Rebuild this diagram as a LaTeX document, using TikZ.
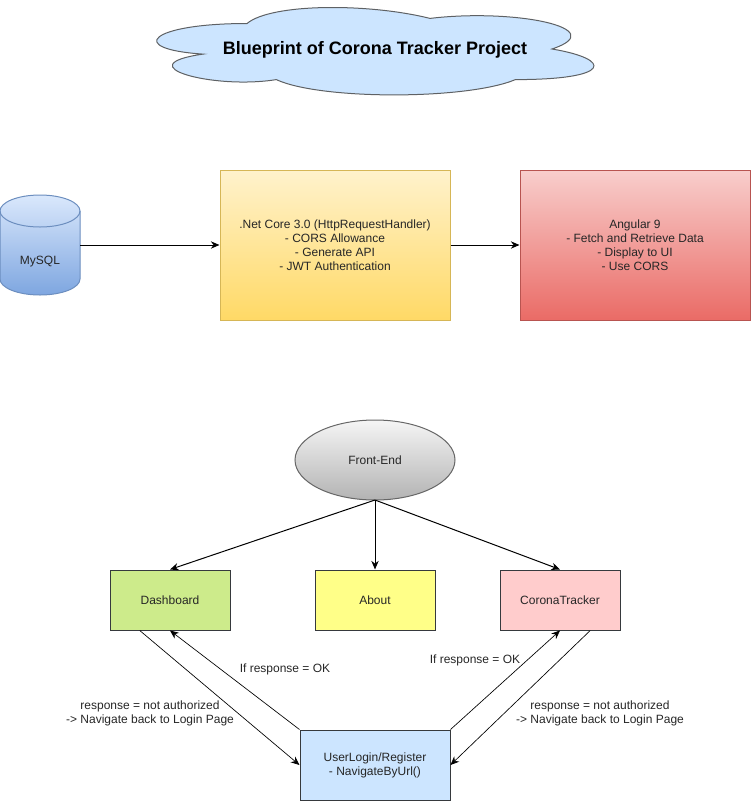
\documentclass[tikz,border=0pt]{standalone}
\usepackage{fontspec}
\setmainfont{Liberation Sans}
\usetikzlibrary{arrows.meta,calc}
\definecolor{cloudfill}{HTML}{CCE5FF}
\definecolor{darkline}{HTML}{36393D}
\definecolor{dbtop}{HTML}{DAE8FC}
\definecolor{dbbot}{HTML}{7EA6E0}
\definecolor{dbline}{HTML}{6C8EBF}
\definecolor{nettop}{HTML}{FFF2CC}
\definecolor{netbot}{HTML}{FFD966}
\definecolor{netline}{HTML}{D6B656}
\definecolor{angtop}{HTML}{F8CECC}
\definecolor{angbot}{HTML}{EA6B66}
\definecolor{angline}{HTML}{B85450}
\definecolor{feTop}{HTML}{F5F5F5}
\definecolor{feBot}{HTML}{B3B3B3}
\definecolor{feline}{HTML}{666666}
\definecolor{dashfill}{HTML}{CDEB8B}
\definecolor{aboutfill}{HTML}{FFFF88}
\definecolor{coronafill}{HTML}{FFCCCC}
\begin{document}
\begin{tikzpicture}[x=0.75pt,y=-0.75pt,
  txt/.style={font=\fontsize{9}{10.5}\selectfont, text=black!85, align=center},
  box/.style={txt, draw=darkline, line width=0.75pt, inner sep=0pt},
  conn/.style={-{Stealth[length=6.5pt,width=5.5pt]}, line width=0.75pt, black},
  thin/.style={-{Stealth[length=6.5pt,width=5.5pt]}, line width=0.5pt, black},
  lbl/.style={txt, inner sep=1pt}
]
\useasboundingbox (0,0) rectangle (751,801);
% cloud
\path[draw=darkline!80, line width=0.75pt, fill=cloudfill]
  (247,23.5) .. controls (149.4,23.5) and (125,49) .. (203.1,54.1)
  .. controls (125,65.3) and (212.8,89.8) .. (276.3,79.6)
  .. controls (320.2,100) and (466.6,100) .. (515.4,79.6)
  .. controls (613,79.6) and (613,59.2) .. (552,49)
  .. controls (613,28.6) and (515.4,8.2) .. (430,18.4)
  .. controls (369,3.1) and (271.4,3.1) .. (247,23.5) -- cycle;
\node[font=\bfseries\fontsize{13.5}{16}\selectfont] (title) at (375,50) {Blueprint of Corona Tracker Project};
% cylinder
\path[draw=dbline, line width=0.75pt, top color=dbtop, bottom color=dbbot]
  (0,211) -- (0,279) arc[start angle=180, end angle=0, x radius=40, y radius=16]
  -- (80,211) arc[start angle=0, end angle=-180, x radius=40, y radius=16] -- cycle;
\draw[dbline, line width=0.75pt] (0,211) arc[start angle=180, end angle=0, x radius=40, y radius=16];
\node[minimum width=60pt, minimum height=75pt, inner sep=0pt] (db) at (40,245) {};
\node[txt] (dblabel) at (40,262) {MySQL};
% top boxes
\node[txt, draw=netline, line width=0.75pt, top color=nettop, bottom color=netbot,
  minimum width=172.5pt, minimum height=112.5pt, inner sep=0pt] (net) at (335,245)
  {.Net Core 3.0 (HttpRequestHandler)\\- CORS Allowance\\- Generate API\\- JWT Authentication};
\node[txt, draw=angline, line width=0.75pt, top color=angtop, bottom color=angbot,
  minimum width=172.5pt, minimum height=112.5pt, inner sep=0pt] (ang) at (635,245)
  {Angular 9\\- Fetch and Retrieve Data\\- Display to UI\\- Use CORS};
\draw[conn] (db.east) -- (net.west);
\draw[conn] (net.east) -- (ang.west);
% front-end
\path[draw=feline, line width=0.75pt, top color=feTop, bottom color=feBot]
  (375,460) ellipse [x radius=80, y radius=40];
\node[txt, minimum width=120pt, minimum height=60pt, inner sep=0pt] (fe) at (375,460) {Front-End};
\coordinate (feb) at (375,500);
\node[box, fill=dashfill, minimum width=90pt, minimum height=45pt] (dash) at (170,600) {Dashboard};
\node[box, fill=aboutfill, minimum width=90pt, minimum height=45pt] (about) at (375,600) {About};
\node[box, fill=coronafill, minimum width=90pt, minimum height=45pt] (corona) at (560,600) {CoronaTracker};
\node[box, fill=cloudfill, minimum width=112.5pt, minimum height=52.5pt] (user) at (375,765) {UserLogin/Register\\- NavigateByUrl()};
\draw[conn] (feb) -- (dash.north);
\draw[conn] (feb) -- (about.north);
\draw[conn] (feb) -- (corona.north);
% bottom connectors
\draw[thin] ($(dash.south west)!0.25!(dash.south east)$) -- (user.west);
\draw[thin] (user.north west) -- (dash.south);
\draw[thin] (user.north east) -- (corona.south);
\draw[thin] ($(corona.south west)!0.75!(corona.south east)$) -- (user.east);
\node[lbl] (okl) at (285,669) {If response = OK};
\node[lbl] (okr) at (475,660) {If response = OK};
\node[lbl] (nal) at (150,713) {response = not authorized\\-> Navigate back to Login Page};
\node[lbl] (nar) at (600,713) {response = not authorized\\-> Navigate back to Login Page};
\end{tikzpicture}
\end{document}
